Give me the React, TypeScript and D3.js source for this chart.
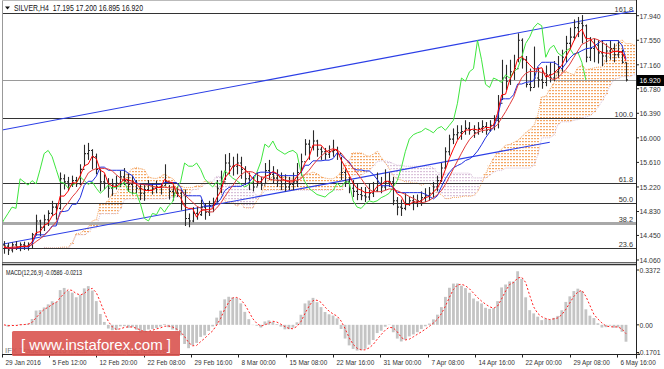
import React, { useEffect, useRef } from "react";
import * as d3 from "d3";

const highs = [
  14.36, 14.33, 14.34, 14.36, 14.34, 14.35, 14.34, 14.49, 14.78, 14.7,
  14.78, 14.85, 15.0, 14.95, 15.45, 15.42, 15.38, 15.4, 15.38, 15.58,
  15.89, 15.92, 15.82, 15.75, 15.5, 15.42, 15.36, 15.35, 15.4, 15.48,
  15.52, 15.43, 15.4, 15.33, 15.28, 15.25, 15.33, 15.28, 15.32, 15.28,
  15.58, 15.25, 15.25, 15.22, 15.17, 15.18, 14.8, 14.9, 14.9, 15.02,
  14.96, 15.0, 15.05, 15.33, 15.48, 15.74, 15.76, 15.7, 15.75, 15.7,
  15.55, 15.45, 15.38, 15.45, 15.38, 15.6, 15.65, 15.55, 15.5, 15.45,
  15.42, 15.38, 15.45, 15.6, 15.75, 15.98, 15.97, 16.12, 15.97, 15.86,
  15.84, 15.88, 15.97, 15.86, 15.7, 15.5, 15.38, 15.33, 15.28, 15.22,
  15.22, 15.28, 15.3, 15.45, 15.38, 15.5, 15.45, 15.38, 15.06, 15.02,
  15.12, 15.06, 15.09, 15.1, 15.15, 15.2, 15.22, 15.3, 15.4, 15.6,
  15.85, 16.05, 16.15, 16.2, 16.2, 16.28, 16.25, 16.2, 16.25, 16.28,
  16.25, 16.28, 16.36, 16.68, 17.24, 17.16, 17.24, 17.32, 17.66, 17.58,
  17.3, 17.1, 17.45, 17.12, 17.1, 17.15, 17.2, 17.22, 17.3, 17.4,
  17.62, 17.75, 17.88, 17.92, 17.95, 17.8, 17.6, 17.58, 17.55, 17.55,
  17.5, 17.55, 17.5, 17.55, 17.4, 17.2,
];
const lows = [
  14.16, 14.14, 14.18, 14.22, 14.2, 14.22, 14.21, 14.24, 14.45, 14.44,
  14.52, 14.6, 14.76, 14.7, 14.86, 15.18, 15.16, 15.22, 15.22, 15.25,
  15.55, 15.65, 15.5, 15.42, 15.15, 15.18, 15.05, 15.08, 15.18, 15.22,
  15.25, 15.14, 15.1, 15.12, 15.01, 15.0, 15.15, 15.1, 15.12, 15.1,
  15.24, 15.02, 15.0, 15.06, 14.85, 14.6, 14.58, 14.66, 14.7, 14.76,
  14.7, 14.76, 14.82, 14.98, 15.12, 15.33, 15.42, 15.4, 15.42, 15.35,
  15.25, 15.17, 15.15, 15.23, 15.17, 15.28, 15.33, 15.28, 15.22, 15.17,
  15.15, 15.17, 15.17, 15.22, 15.4, 15.72, 15.65, 15.8, 15.7, 15.65,
  15.65, 15.68, 15.7, 15.65, 15.33, 15.22, 15.12, 15.06, 15.01, 15.01,
  14.98, 15.01, 15.06, 15.14, 15.12, 15.17, 15.22, 14.93, 14.77, 14.76,
  14.85, 14.92, 14.85, 14.9, 14.92, 14.98, 15.0, 15.05, 15.15, 15.3,
  15.5, 15.72, 15.9, 15.97, 15.97, 16.05, 16.05, 16.0, 16.05, 16.08,
  16.05, 16.1, 16.12, 16.15, 16.6, 16.76, 16.84, 16.92, 17.2, 17.1,
  16.8, 16.74, 16.8, 16.8, 16.78, 16.82, 16.88, 16.9, 16.95, 17.05,
  17.2, 17.4, 17.55, 17.6, 17.5, 17.2, 17.22, 17.2, 17.18, 17.14,
  17.2, 17.24, 17.2, 17.27, 17.18, 16.895,
];
const closes = [
  14.28, 14.22, 14.3, 14.27, 14.3, 14.28, 14.31, 14.46, 14.68, 14.58,
  14.7, 14.8, 14.9, 14.88, 15.35, 15.3, 15.25, 15.32, 15.27, 15.5,
  15.75, 15.8, 15.7, 15.5, 15.3, 15.28, 15.2, 15.25, 15.28, 15.38,
  15.32, 15.26, 15.3, 15.2, 15.12, 15.18, 15.25, 15.2, 15.22, 15.24,
  15.3, 15.15, 15.12, 15.12, 14.95, 14.72, 14.68, 14.8, 14.78, 14.9,
  14.82, 14.92, 14.98, 15.2, 15.3, 15.6, 15.55, 15.55, 15.6, 15.5,
  15.35, 15.28, 15.22, 15.3, 15.25, 15.48, 15.42, 15.36, 15.32, 15.27,
  15.22, 15.26, 15.3, 15.45, 15.62, 15.9, 15.85, 15.95, 15.82, 15.78,
  15.74, 15.78, 15.8, 15.75, 15.45, 15.3, 15.2, 15.15, 15.1, 15.08,
  15.06, 15.12, 15.16, 15.28, 15.22, 15.3, 15.3, 15.0, 14.9, 14.88,
  14.95, 15.0, 14.98, 15.0, 15.05, 15.08, 15.12, 15.22, 15.32, 15.52,
  15.78, 15.98, 16.05, 16.08, 16.1, 16.15, 16.12, 16.08, 16.15, 16.18,
  16.12, 16.2, 16.28, 16.55, 16.95, 16.9, 17.05, 17.1, 17.55, 17.24,
  16.85, 16.8, 16.95, 16.92, 16.88, 17.0, 16.95, 17.05, 17.1, 17.28,
  17.5, 17.6, 17.75, 17.82, 17.78, 17.28, 17.42, 17.47, 17.35, 17.3,
  17.38, 17.42, 17.32, 17.36, 17.2, 16.92,
];
const firstOpen = 14.3;

const header = "SILVER,H4  17.195 17.200 16.895 16.920";
const macdLabel = "MACD(12,26,9) -0.0586 -0.0213";
const ifxNote = "IFX Trader ©2016 InstaForex. All rights reserved.";
const brand = "[ www.instaforex.com ]";

const priceTicks = [17.94, 17.55, 17.16, 16.78, 16.39, 16.0, 15.61, 15.22, 14.83, 14.45, 14.06];
const macdTicks = [0.3372, 0, -0.1701];
const macdTickLabels = ["0.3372", "0.00", "-0.1701"];

const timeLabels = [
  "29 Jan 2016", "5 Feb 12:00", "12 Feb 20:00", "22 Feb 08:00", "29 Feb 16:00",
  "8 Mar 00:00", "15 Mar 08:00", "22 Mar 16:00", "31 Mar 00:00", "7 Apr 08:00",
  "14 Apr 16:00", "22 Apr 00:00", "29 Apr 08:00", "6 May 16:00",
];
const timeTickBars = [-0.6, 11.2, 23, 34.8, 46.6, 58.4, 70.2, 82, 93.8, 105.6, 117.4, 129.2, 141, 152.8];

// Fibonacci retracement anchored on these two prices
const fibLow = 13.611;
const fibHigh = 16.31;
const fibLevels = [161.8, 100.0, 61.8, 50.0, 38.2, 23.6];

// channel lines: [bar, price] pairs
const upperChannel = [[-0.5, 16.124], [157, 18.015]];
const lowerChannel = [[-0.5, 14.31], [136, 15.93]];

// indicator periods rescaled to the coarser bars
const tenkanP = 3, kijunP = 10, senkouBP = 30, shiftP = 10, maP = 8;
const fastP = 4.43, slowP = 9.6, signalP = 3;

const FONT = "'Liberation Sans',Arial,sans-serif";

const midRange = (i: number, p: number) => {
  const s = Math.max(0, i - p + 1);
  return (d3.max(highs.slice(s, i + 1))! + d3.min(lows.slice(s, i + 1))!) / 2;
};
const ema = (src: number[], p: number) => {
  const a = 2 / (p + 1);
  const out: number[] = [];
  src.forEach((v, i) => out.push(i === 0 ? v : a * v + (1 - a) * out[i - 1]));
  return out;
};
const sma = (src: number[], p: number) =>
  src.map((_, i) => d3.mean(src.slice(Math.max(0, i - p + 1), i + 1))!);

// squeeze text the way the terminal's narrow font looks
const squeeze = (sel: any, factor: number, width?: number) =>
  sel.each(function (this: SVGTextElement) {
    const len = this.getComputedTextLength();
    d3.select(this).attr("textLength", width ?? len * factor).attr("lengthAdjust", "spacingAndGlyphs");
  });

export default function App() {
  const ref = useRef<SVGSVGElement | null>(null);

  useEffect(() => {
    const svg = d3.select(ref.current);
    svg.selectAll("*").remove();

    const n = closes.length;
    const L = 2, R = 636, mainT = 1, mainB = 262, macdT = 265, macdB = 354.5;

    const x = d3.scaleLinear().domain([0, n - 1]).range([4, 626]);
    const y = d3.scaleLinear().domain([14.06, 17.94]).range([260, 15.7]);
    const ym = d3.scaleLinear().domain([-0.1701, 0.3372]).range([352.5, 270]);

    const idx = d3.range(n);
    const tenkan = idx.map((i) => midRange(i, tenkanP));
    const kijun = idx.map((i) => midRange(i, kijunP));
    const spanA = idx.map((i) => (tenkan[i] + kijun[i]) / 2);
    const spanB = idx.map((i) => midRange(i, senkouBP));
    const ma = sma(closes, maP);
    const slow = ema(closes, slowP);
    const macd = ema(closes, fastP).map((v, i) => v - slow[i]);
    const signal = sma(macd, signalP);

    const defs = svg.append("defs");
    defs.append("clipPath").attr("id", "clipMain")
      .append("rect").attr("x", L).attr("y", mainT).attr("width", R - L).attr("height", mainB - mainT);
    defs.append("clipPath").attr("id", "clipMacd")
      .append("rect").attr("x", L).attr("y", macdT).attr("width", R - L).attr("height", macdB - macdT);
    const pat = (id: string, color: string) =>
      defs.append("pattern").attr("id", id).attr("width", 3).attr("height", 3)
        .attr("patternUnits", "userSpaceOnUse")
        .append("rect").attr("width", 2).attr("height", 1.2).attr("fill", color);
    pat("kumoUp", "#f4a460");
    pat("kumoDown", "#d8bfd8");

    svg.append("rect").attr("width", 664).attr("height", 369).attr("fill", "#fff");

    const main = svg.append("g").attr("clip-path", "url(#clipMain)");

    // cloud, shifted forward
    main.append("g").selectAll("rect").data(idx).join("rect")
      .attr("x", (i) => x(i + shiftP) - 2)
      .attr("width", 4.1)
      .attr("y", (i) => y(Math.max(spanA[i], spanB[i])))
      .attr("height", (i) => Math.abs(y(spanA[i]) - y(spanB[i])))
      .attr("fill", (i) => (spanA[i] >= spanB[i] ? "url(#kumoUp)" : "url(#kumoDown)"));

    const line = (vals: number[], shift = 0) =>
      d3.line<number>().x((i) => x(i + shift)).y((i) => y(vals[i]))(idx);
    main.append("path").attr("d", line(spanA, shiftP)).attr("fill", "none")
      .attr("stroke", "#f4a460").attr("stroke-dasharray", "1,1");
    main.append("path").attr("d", line(spanB, shiftP)).attr("fill", "none")
      .attr("stroke", "#d8bfd8").attr("stroke-dasharray", "1,1");

    // fibo levels
    fibLevels.forEach((lv) => {
      const py = Math.round(y(fibLow + ((fibHigh - fibLow) * lv) / 100)) + 0.5;
      main.append("line").attr("x1", L).attr("x2", R).attr("y1", py).attr("y2", py)
        .attr("stroke", lv === 38.2 ? "#a8a8a8" : "#333")
        .attr("stroke-width", lv === 38.2 ? 3 : 1);
      const t = main.append("text").attr("x", R - 3).attr("y", py - 2).attr("text-anchor", "end")
        .attr("font-family", FONT).attr("font-size", 8).attr("fill", "#333")
        .text(lv.toFixed(1));
      squeeze(t, 0.92);
    });

    // last price line
    const lastY = Math.round(y(closes[n - 1])) + 0.5;
    main.append("line").attr("x1", L).attr("x2", R).attr("y1", lastY).attr("y2", lastY)
      .attr("stroke", "#9a9a9a");

    // channel
    [upperChannel, lowerChannel].forEach((c) =>
      main.append("line")
        .attr("x1", x(c[0][0])).attr("y1", y(c[0][1]))
        .attr("x2", x(c[1][0])).attr("y2", y(c[1][1]))
        .attr("stroke", "#2b3ee6").attr("stroke-width", 1.1)
    );

    // bars
    const bars = main.append("g").attr("stroke", "#2a2a2a").attr("stroke-width", 1.1);
    idx.forEach((i) => {
      const cx = Math.round(x(i)) + 0.5;
      const open = i === 0 ? firstOpen : closes[i - 1];
      bars.append("line").attr("x1", cx).attr("x2", cx).attr("y1", y(highs[i])).attr("y2", y(lows[i]));
      bars.append("line").attr("x1", cx - 1.5).attr("x2", cx).attr("y1", y(open)).attr("y2", y(open));
      bars.append("line").attr("x1", cx).attr("x2", cx + 1.5).attr("y1", y(closes[i])).attr("y2", y(closes[i]));
    });

    // ichimoku lines + ma
    const chikou = d3.line<number>().x((i) => x(i - shiftP)).y((i) => y(closes[i]))(idx);
    main.append("path").attr("d", chikou).attr("fill", "none").attr("stroke", "#3ee63e");
    main.append("path").attr("d", line(kijun)).attr("fill", "none").attr("stroke", "#1f2fe0");
    main.append("path").attr("d", line(ma)).attr("fill", "none").attr("stroke", "#e23a3a");
    main.append("path").attr("d", line(tenkan)).attr("fill", "none").attr("stroke", "#ff0000");

    // macd
    const sub = svg.append("g").attr("clip-path", "url(#clipMacd)");
    sub.append("g").selectAll("rect").data(idx).join("rect")
      .attr("x", (i) => x(i) - 1.4)
      .attr("width", 2.8)
      .attr("y", (i) => Math.min(ym(macd[i]), ym(0)))
      .attr("height", (i) => Math.abs(ym(macd[i]) - ym(0)))
      .attr("fill", "#c4c4c4");
    sub.append("path")
      .attr("d", d3.line<number>().x((i) => x(i)).y((i) => ym(signal[i]))(idx))
      .attr("fill", "none").attr("stroke", "#ff2020").attr("stroke-dasharray", "2,2");

    // frame
    const fr = svg.append("g").attr("fill", "none");
    fr.append("line").attr("x1", L + 0.5).attr("x2", L + 0.5).attr("y1", 0).attr("y2", macdB).attr("stroke", "#999");
    fr.append("line").attr("x1", L).attr("x2", R).attr("y1", 0.5).attr("y2", 0.5).attr("stroke", "#bbb");
    fr.append("line").attr("x1", R + 0.5).attr("x2", R + 0.5).attr("y1", 0).attr("y2", macdB + 4).attr("stroke", "#222");
    fr.append("line").attr("x1", L).attr("x2", R).attr("y1", mainB + 0.5).attr("y2", mainB + 0.5).attr("stroke", "#666");
    fr.append("line").attr("x1", L).attr("x2", R).attr("y1", macdT - 0.5).attr("y2", macdT - 0.5).attr("stroke", "#333").attr("stroke-width", 1.5);
    fr.append("line").attr("x1", L).attr("x2", R + 4).attr("y1", macdB).attr("y2", macdB).attr("stroke", "#222");

    // right axis
    const ax = svg.append("g").attr("font-family", FONT).attr("font-size", 8).attr("fill", "#333");
    priceTicks.forEach((t) => {
      ax.append("line").attr("x1", R).attr("x2", R + 3).attr("y1", y(t)).attr("y2", y(t)).attr("stroke", "#222");
      squeeze(ax.append("text").attr("x", R + 3.5).attr("y", y(t)).attr("dy", "0.35em").text(t.toFixed(3)), 0.86);
    });
    macdTicks.forEach((t, k) => {
      ax.append("line").attr("x1", R).attr("x2", R + 3).attr("y1", ym(t)).attr("y2", ym(t)).attr("stroke", "#222");
      squeeze(ax.append("text").attr("x", R + (t < 0 ? 1.5 : 3.5)).attr("y", ym(t)).attr("dy", "0.35em").text(macdTickLabels[k]), 0.85);
    });
    ax.append("rect").attr("x", R + 1).attr("y", lastY - 5.5).attr("width", 27).attr("height", 11).attr("fill", "#000");
    squeeze(ax.append("text").attr("x", R + 3.5).attr("y", lastY).attr("dy", "0.35em").attr("fill", "#fff").text(closes[n - 1].toFixed(3)), 0.86);

    // time axis
    timeTickBars.forEach((t, k) => {
      const tx = Math.round(x(t)) + 0.5;
      ax.append("line").attr("x1", tx).attr("x2", tx).attr("y1", macdB).attr("y2", macdB + 3).attr("stroke", "#222");
      squeeze(ax.append("text").attr("x", tx + 3).attr("y", 365).text(timeLabels[k]), 0.8);
    });

    // titles
    svg.append("path").attr("d", "M5,6.5 L10,6.5 L7.5,9.5 Z").attr("fill", "#111");
    squeeze(svg.append("text").attr("x", 14).attr("y", 11).attr("font-family", FONT).attr("font-size", 8.5)
      .attr("fill", "#111").style("white-space", "pre").text(header), 1, 129);
    squeeze(svg.append("text").attr("x", 6).attr("y", 274.5).attr("font-family", FONT).attr("font-size", 8)
      .attr("fill", "#111").text(macdLabel), 1, 76);

    // watermark
    squeeze(svg.append("text").attr("x", 5).attr("y", 353).attr("font-family", FONT).attr("font-size", 7)
      .attr("fill", "#777").text(ifxNote), 1, 168);
    svg.append("rect").attr("x", 12).attr("y", 331).attr("width", 168).attr("height", 25).attr("rx", 1.5)
      .attr("fill", "#d9534f").attr("opacity", 0.9);
    svg.append("text").attr("x", 96).attr("y", 349.5).attr("text-anchor", "middle")
      .attr("font-family", FONT).attr("font-size", 15).attr("fill", "#fff")
      .style("white-space", "pre").text(brand);
  }, []);

  return (
    <svg
      ref={ref}
      width={664}
      height={369}
      style={{ position: "absolute", left: 0, top: 0, display: "block" }}
    />
  );
}
